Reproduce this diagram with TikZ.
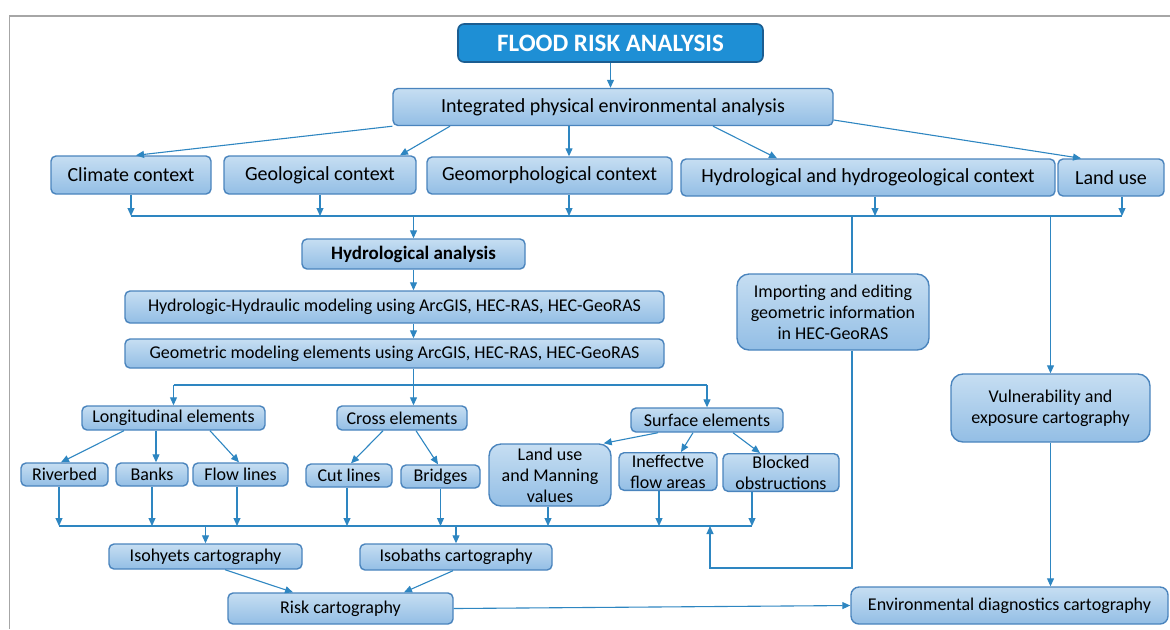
\documentclass[tikz,border=0pt]{standalone}
\usepackage{fontspec}
\setmainfont{Carlito}
\usepackage{tikz}
\usetikzlibrary{arrows.meta}

\definecolor{boxline}{HTML}{4A84BD}
\definecolor{boxtop}{HTML}{C6DEF2}
\definecolor{boxbot}{HTML}{93BEE5}
\definecolor{titlefill}{HTML}{1E8FD5}
\definecolor{titleline}{HTML}{1B5D91}
\definecolor{linkblue}{HTML}{2E86C1}
\definecolor{framegray}{HTML}{A6A6A6}

\begin{document}
\begin{tikzpicture}[
  x=0.5pt, y=-0.5pt,
  wh/.style 2 args = {minimum width=#1*0.5pt, minimum height=#2*0.5pt},
  box/.style = {
    rectangle, rounded corners=2.5pt,
    draw=boxline, line width=0.7pt,
    top color=boxtop, bottom color=boxbot,
    align=center, inner sep=1pt, text=black,
    font=\fontsize{9}{10.5}\selectfont
  },
  ctxbox/.style = {box, font=\fontsize{10}{12}\selectfont},
  roundbox/.style = {box, rounded corners=6pt},
  titlebox/.style = {
    rectangle, rounded corners=3pt,
    draw=titleline, line width=0.8pt, fill=titlefill,
    text=white, inner sep=1pt,
    font=\fontsize{12.5}{14}\selectfont\bfseries
  },
  link/.style  = {-{Triangle[length=4pt,width=3.5pt]}, line width=0.55pt, linkblue},
  plain/.style = {line width=0.55pt, linkblue},
]
\useasboundingbox (0,0) rectangle (1170,629);
\draw[framegray, line width=0.8pt] (9.5,629) -- (9.5,16) -- (1170,16);

%% ---- top levels ----
\node[titlebox, wh={305}{38}] (title) at (610.5,43) {FLOOD RISK ANALYSIS};
\node[ctxbox, wh={440}{37}] (integ) at (613,107) {Integrated physical environmental analysis};

\node[ctxbox, wh={160}{38}] (climate)  at (131,175)    {Climate context};
\node[ctxbox, wh={192}{38}] (geol)     at (320,175)    {Geological context};
\node[ctxbox, wh={245}{37}] (geomorph) at (549.5,175.5) {Geomorphological context};
\node[ctxbox, wh={374}{37}] (hydctx)   at (868,177.5)  {Hydrological and hydrogeological context};
\node[ctxbox, wh={106}{37}] (landuse)  at (1111,177.5) {Land use};

\coordinate (ctxbus)  at (0,216);
\coordinate (elembus) at (0,385);
\coordinate (featbus) at (0,526);
\coordinate (loopback) at (710,568);

\draw[link] (title.south) -- (title.south |- integ.north);
\draw[link] (integ.south west) -- ([xshift=2.5pt]climate.north);
\draw[link] ([xshift=-81.5pt]integ.south) -- ([xshift=40pt]geol.north);
\draw[link] ([xshift=-22pt]integ.south) -- ([xshift=9.75pt]geomorph.north);
\draw[link] ([xshift=50pt]integ.south) -- ([xshift=-45.5pt]hydctx.north);
\draw[link] ([yshift=-6.5pt]integ.east) -- ([xshift=-15pt]landuse.north);

%% ---- context bus ----
\draw[link] (climate.south) -- (climate.south |- ctxbus);
\draw[link] (geol.south) -- (geol.south |- ctxbus);
\draw[link] ([xshift=9.75pt]geomorph.south) -- ([xshift=9.75pt]geomorph.south |- ctxbus);
\draw[link] ([xshift=3.5pt]hydctx.south) -- ([xshift=3.5pt]hydctx.south |- ctxbus);
\draw[link] ([xshift=5.5pt]landuse.south) -- ([xshift=5.5pt]landuse.south |- ctxbus);
\draw[plain] (climate.south |- ctxbus) -- ([xshift=5.5pt]landuse.south |- ctxbus);

%% ---- hydrological chain ----
\node[box, wh={223}{30}, font=\fontsize{9.5}{11}\selectfont\bfseries] (hydana) at (413.5,254) {Hydrological analysis};
\node[box, wh={539}{32}] (hhmod)  at (394.5,307)   {Hydrologic-Hydraulic modeling using ArcGIS, HEC-RAS, HEC-GeoRAS};
\node[box, wh={539}{29}] (geomod) at (394.5,353.5) {Geometric modeling elements using ArcGIS, HEC-RAS, HEC-GeoRAS};

\draw[link] (hydana.north |- ctxbus) -- (hydana.north);
\draw[link] (hydana.south) -- (hydana.south |- hhmod.north);
\draw[link] (hydana.south |- hhmod.south) -- (hydana.south |- geomod.north);

%% ---- element groups ----
\node[box, wh={183}{24}] (longit)  at (173.5,418) {Longitudinal elements};
\node[box, wh={130}{24}] (cross)   at (402,418)   {Cross elements};
\node[box, wh={152}{24}] (surface) at (707,420)   {Surface elements};

\draw[link] (hydana.south |- geomod.south) -- (hydana.south |- cross.north);
\draw[plain] (longit.north |- elembus) -- (surface.north |- elembus);
\draw[link] (longit.north |- elembus) -- (longit.north);
\draw[link] (surface.north |- elembus) -- (surface.north);

%% ---- single features ----
\node[box, wh={87}{23}]  (riverbed)  at (64.5,474.5) {Riverbed};
\node[box, wh={72}{23}]  (banks)     at (152,474.5)  {Banks};
\node[box, wh={95}{23}]  (flowlines) at (240.5,474.5) {Flow lines};
\node[box, wh={86}{23}]  (cutlines)  at (349,475.5)  {Cut lines};
\node[box, wh={79}{23}]  (bridges)   at (440.5,476.5) {Bridges};
\node[roundbox, wh={122}{62}] (manning) at (550,475) {Land use\\and Manning\\values};
\node[box, wh={98}{35}]  (ineff)     at (668,471.5)  {Ineffectve\\flow areas};
\node[box, wh={116}{35}] (blocked)   at (781,472.5)  {Blocked\\obstructions};

\draw[link] ([xshift=-24.75pt]longit.south) -- ([xshift=-1.75pt]riverbed.north);
\draw[link] ([xshift=-8.75pt]longit.south) -- ([xshift=2pt]banks.north);
\draw[link] ([xshift=18.25pt]longit.south) -- ([xshift=-0.75pt]flowlines.north);
\draw[link] ([xshift=-9.5pt]cross.south) -- ([xshift=1pt]cutlines.north);
\draw[link] ([xshift=7pt]cross.south) -- ([xshift=-1.25pt]bridges.north);
\draw[link] ([xshift=-24.5pt]surface.south) -- ([xshift=-4pt]manning.north east);
\draw[link] ([xshift=-7pt]surface.south) -- ([xshift=6.5pt]ineff.north);
\draw[link] ([xshift=13pt]surface.south) -- ([xshift=-10.5pt]blocked.north);

%% ---- feature bus ----
\draw[link] ([xshift=-2.75pt]riverbed.south) -- ([xshift=-2.75pt]riverbed.south |- featbus);
\draw[link] (banks.south) -- (banks.south |- featbus);
\draw[link] ([xshift=-1.75pt]flowlines.south) -- ([xshift=-1.75pt]flowlines.south |- featbus);
\draw[link] ([xshift=-1pt]cutlines.south) -- ([xshift=-1pt]cutlines.south |- featbus);
\draw[link] (bridges.south) -- (bridges.south |- featbus);
\draw[link] ([xshift=-1pt]manning.south) -- ([xshift=-1pt]manning.south |- featbus);
\draw[link] ([xshift=-4.5pt]ineff.south) -- ([xshift=-4.5pt]ineff.south |- featbus);
\draw[link] ([xshift=-14.5pt]blocked.south) -- ([xshift=-14.5pt]blocked.south |- featbus);
\draw[plain] ([xshift=-2.75pt]riverbed.south |- featbus) -- ([xshift=-14.5pt]blocked.south |- featbus);

%% ---- cartography ----
\node[box, wh={193}{25}] (isohyets) at (205.5,556.5) {Isohyets cartography};
\node[box, wh={192}{26}] (isobaths) at (456,557)     {Isobaths cartography};
\node[box, wh={225}{31}] (risk)     at (340.5,608.5) {Risk cartography};

\draw[link] (isohyets.north |- featbus) -- (isohyets.north);
\draw[link] (isobaths.north |- featbus) -- (isobaths.north);
\draw[link] ([xshift=9.75pt]isohyets.south) -- ([xshift=-23.75pt]risk.north);
\draw[link] ([xshift=-1.5pt]isobaths.south) -- ([xshift=31.75pt]risk.north);

%% ---- right column ----
\node[roundbox, wh={192}{76}] (importing) at (833,312) {Importing and editing\\geometric information\\in HEC-GeoRAS};
\node[roundbox, wh={199}{68}] (vulner)    at (1050.5,408) {Vulnerability and\\exposure cartography};
\node[box, wh={317}{37}, rounded corners=4pt] (envdiag) at (1009.5,605.5) {Environmental diagnostics cartography};

\draw[plain] ([xshift=9.5pt]importing.north |- ctxbus) -- ([xshift=9.5pt]importing.north);
\draw[link] ([xshift=9.5pt]importing.south) |- (loopback) -- (loopback |- featbus);
\draw[link] (vulner.north |- ctxbus) -- (vulner.north);
\draw[link] (vulner.south) -- (vulner.south |- envdiag.north);
\draw[link] (risk.east) -- (envdiag.west);

\end{tikzpicture}
\end{document}
